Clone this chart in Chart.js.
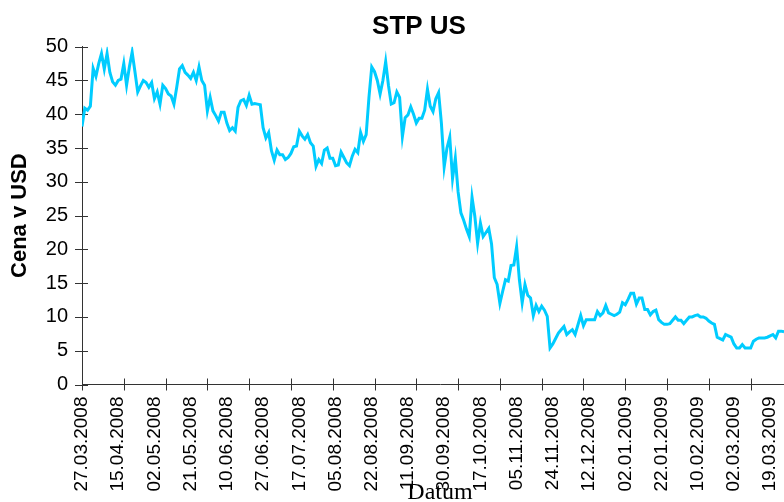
<!DOCTYPE html>
<html>
<head>
<meta charset="utf-8">
<script src="https://cdn.jsdelivr.net/npm/chart.js@4"></script>
<style>
  html, body { margin: 0; padding: 0; background: #fff; overflow: hidden; }
  #wrap { position: absolute; left: 0; top: 0; width: 838px; height: 520px; }
</style>
</head>
<body>
<div id="wrap"><canvas id="chartSTP" width="838" height="520"></canvas></div>
<script>
// one label every 13 trading days, a tick mark every 15
const dateLabels = [
  '27.03.2008', '15.04.2008', '02.05.2008', '21.05.2008', '10.06.2008',
  '27.06.2008', '17.07.2008', '05.08.2008', '22.08.2008', '11.09.2008',
  '30.09.2008', '17.10.2008', '05.11.2008', '24.11.2008', '12.12.2008',
  '02.01.2009', '22.01.2009', '10.02.2009', '02.03.2009', '19.03.2009'
]
const labelStep = 13
const tickStep = 15

// daily close, USD
const prices = [
  38.2, 40.9, 40.6, 41.2, 46.8, 45.6, 47.5, 49.0, 46.7, 49.0,
  46.2, 44.8, 44.3, 45.0, 45.2, 47.5, 44.3, 47.0, 49.2, 46.3,
  43.3, 44.2, 45.0, 44.7, 44.0, 44.7, 42.3, 43.3, 41.5, 44.3,
  43.8, 43.0, 42.7, 41.5, 44.0, 46.7, 47.2, 46.2, 45.8, 45.3,
  46.2, 45.0, 47.0, 45.0, 44.3, 40.5, 42.5, 40.5, 39.8, 39.0,
  40.3, 40.3, 38.7, 37.6, 38.0, 37.5, 41.0, 42.0, 42.2, 41.3,
  42.8, 41.5, 41.6, 41.5, 41.4, 38.0, 36.5, 37.3, 34.6, 33.2,
  34.7, 34.0, 34.0, 33.3, 33.6, 34.2, 35.2, 35.3, 37.5, 36.8,
  36.3, 37.0, 35.8, 35.3, 32.3, 33.3, 32.7, 34.7, 35.0, 33.5,
  33.5, 32.4, 32.5, 34.4, 33.6, 32.8, 32.4, 33.8, 34.8, 34.3,
  37.3, 36.0, 37.0, 42.5, 47.0, 46.3, 45.0, 43.0, 45.0, 47.8,
  44.3, 41.5, 41.7, 43.3, 42.5, 36.7, 39.5, 39.9, 41.1, 40.0,
  38.7, 39.4, 39.4, 40.6, 43.7, 41.2, 40.4, 42.3, 43.2, 38.7,
  32.2, 35.0, 36.6, 30.5, 33.5, 28.5, 25.4, 24.3, 23.0, 21.9,
  27.7, 24.9, 20.9, 23.9, 21.9, 22.5, 23.1, 20.8, 15.8, 14.8,
  12.0, 13.8, 15.5, 15.3, 17.6, 17.7, 20.4, 15.5, 12.1, 14.8,
  13.2, 12.8, 10.2, 11.7, 10.8, 11.6, 11.0, 10.1, 5.4, 6.0,
  6.8, 7.6, 8.1, 8.6, 7.4, 7.8, 8.1, 7.4, 8.8, 10.2,
  8.7, 9.6, 9.6, 9.6, 9.6, 10.8, 10.2, 10.6, 11.7, 10.6,
  10.4, 10.2, 10.4, 10.7, 12.1, 11.8, 12.6, 13.5, 13.5, 11.9,
  12.8, 12.8, 11.1, 11.1, 10.3, 10.8, 11.0, 9.6, 9.2, 8.9,
  8.9, 9.0, 9.5, 10.0, 9.5, 9.5, 9.0, 9.5, 10.0, 10.0,
  10.2, 10.3, 10.0, 10.0, 9.8, 9.4, 9.1, 8.9, 7.0, 6.8,
  6.6, 7.4, 7.2, 7.0, 6.0, 5.4, 5.4, 5.9, 5.4, 5.4,
  5.4, 6.4, 6.7, 6.9, 6.9, 6.9, 7.0, 7.2, 7.4, 6.9,
  7.9, 7.9, 7.8
]

const points = prices.map((p, i) => ({x: i, y: p}))

const sans = 'Liberation Sans, Arial, sans-serif'

// Excel style tick marks that cross the axis line
const crossTicks = {
  id: 'crossTicks',
  beforeDatasetsDraw(chart) {
    const ctx = chart.ctx
    const xs = chart.scales.x
    const ys = chart.scales.y
    ctx.save()
    ctx.strokeStyle = '#333'
    ctx.lineWidth = 1
    ctx.beginPath()
    for (let v = xs.min; v <= xs.max; v += tickStep) {
      const px = Math.round(xs.getPixelForValue(v)) + 0.5
      ctx.moveTo(px, ys.bottom - 6)
      ctx.lineTo(px, ys.bottom + 6)
    }
    ys.ticks.forEach(t => {
      const py = Math.round(ys.getPixelForValue(t.value)) + 0.5
      ctx.moveTo(xs.left - 7, py)
      ctx.lineTo(xs.left + 6, py)
    })
    ctx.stroke()
    ctx.restore()
  }
}

new Chart(document.getElementById('chartSTP'), {
  type: 'line',
  data: {
    datasets: [{
      data: points,
      borderColor: '#00ccff',
      borderWidth: 3,
      pointRadius: 0,
      tension: 0,
      fill: false
    }]
  },
  options: {
    responsive: false,
    animation: false,
    layout: { padding: 0 },
    plugins: {
      legend: { display: false },
      tooltip: { enabled: false },
      title: {
        display: true,
        text: 'STP US',
        color: '#000',
        font: { family: sans, size: 26, weight: 'bold' },
        padding: { top: 11, bottom: 4.5 }
      }
    },
    scales: {
      x: {
        type: 'linear',
        min: 0,
        max: 257,
        afterFit: s => { s.height = 135.5 },
        grid: { display: false, drawTicks: false },
        border: { color: '#333', width: 1 },
        ticks: {
          stepSize: labelStep,
          includeBounds: false,
          autoSkip: false,
          minRotation: 90,
          maxRotation: 90,
          padding: 12,
          color: '#000',
          font: { family: sans, size: 19 },
          callback: v => dateLabels[v / labelStep] || ''
        },
        title: {
          display: true,
          text: 'Datum',
          color: '#000',
          font: { family: 'Liberation Serif, Times New Roman, serif', size: 24 },
          padding: { top: 0, bottom: 13 }
        }
      },
      y: {
        min: 0,
        max: 50,
        afterFit: s => { s.width = 82 },
        grid: { display: false, drawTicks: false },
        border: { color: '#333', width: 1 },
        ticks: {
          stepSize: 5,
          padding: 14,
          color: '#000',
          font: { family: sans, size: 20 }
        },
        title: {
          display: true,
          text: 'Cena v USD',
          color: '#000',
          font: { family: sans, size: 22, weight: 'bold' },
          padding: { top: 7, bottom: 0 }
        }
      },
      // empty right-hand box, keeps the plot area narrower than the title band
      yPad: {
        position: 'right',
        afterFit: s => { s.width = 40 },
        grid: { display: false, drawTicks: false },
        border: { display: false },
        ticks: { display: false }
      }
    }
  },
  plugins: [crossTicks]
})
</script>
</body>
</html>
